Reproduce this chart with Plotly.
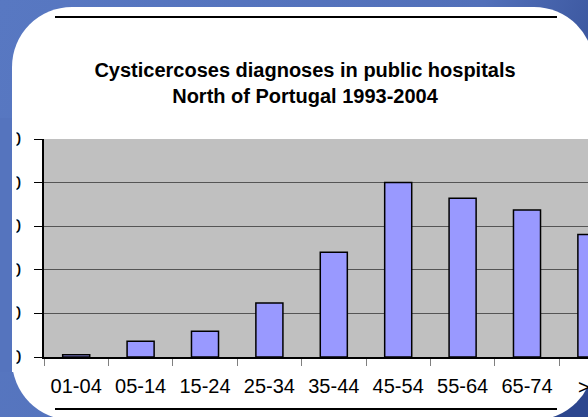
import base64
import plotly.graph_objects as go

# ---- data ----
categories = ["01-04", "05-14", "15-24", "25-34", "35-44", "45-54", "55-64", "65-74", ">75"]
cases = [0.5, 3.6, 5.9, 12.4, 24.0, 40.0, 36.4, 33.7, 28.1]
y_tick_values = [0, 10, 20, 30, 40, 50]
title_lines = ["Cysticercoses diagnoses in public hospitals", "North of Portugal 1993-2004"]

# ---- layout constants (pixels) ----
W, H = 588, 417
ML, MR, MT, MB = 44, 0, 139, 60
PW, PH = W - ML - MR, H - MT - MB
CAT_PITCH = 64.4  # pixel width of one category slot
X_SPAN = PW / CAT_PITCH  # number of category slots visible


def px(x):
    return (x - ML) / PW


def py(y):
    return (H - MB - y) / PH


FONT = "Liberation Sans, Arial, sans-serif"

svg = f'''<svg xmlns="http://www.w3.org/2000/svg" width="{W}" height="{H}" viewBox="0 0 {W} {H}" preserveAspectRatio="none">
<defs><linearGradient id="g" gradientUnits="userSpaceOnUse" x1="0" y1="0" x2="588" y2="250">
<stop offset="0" stop-color="#5878C2"/><stop offset="0.7" stop-color="#5270B9"/><stop offset="1" stop-color="#2C468E"/>
</linearGradient></defs>
<rect width="{W}" height="{H}" fill="url(#g)"/>
<rect x="12" y="7" width="582" height="413" rx="60" ry="60" fill="#FFFFFF"/>
<line x1="55" y1="17" x2="557" y2="17" stroke="#000" stroke-width="2"/>
<line x1="55" y1="409" x2="557" y2="409" stroke="#000" stroke-width="2"/>
</svg>'''
src = "data:image/svg+xml;base64," + base64.b64encode(svg.encode()).decode()

fig = go.Figure()
fig.add_trace(go.Bar(
    x=categories, y=cases, width=0.42,
    marker=dict(color="#9999FF", line=dict(color="#000000", width=1.5)),
    hoverinfo="x+y",
))

n = len(categories)
fig.update_layout(
    template="none",
    width=W, height=H,
    margin=dict(l=ML, r=MR, t=MT, b=MB, pad=0),
    paper_bgcolor="#5574BE",
    plot_bgcolor="rgba(0,0,0,0)",
    showlegend=False,
    font=dict(family=FONT, color="#000000"),
    title=dict(
        text="<b>" + "<br>".join(title_lines) + "</b>",
        font=dict(family=FONT, size=20, color="#000000"),
        x=305 / W, xanchor="center", xref="container",
        y=1 - 77 / H, yanchor="middle", yref="container",
    ),
    xaxis=dict(
        type="category", range=[-0.5, -0.5 + X_SPAN],
        tickson="boundaries", ticks="outside", ticklen=7, tickcolor="#808080", tickwidth=1,
        showline=True, linecolor="#000000", linewidth=1.5,
        showgrid=False, zeroline=False,
        tickfont=dict(family=FONT, size=20, color="#000000"),
        ticklabelstandoff=10,
        fixedrange=True,
    ),
    yaxis=dict(
        range=[0, 50], tickvals=y_tick_values,
        ticks="outside", ticklen=8, tickcolor="#000000", tickwidth=1,
        showline=True, linecolor="#000000", linewidth=1.5,
        showgrid=True, gridcolor="#555555", gridwidth=1, zeroline=False,
        tickfont=dict(family=FONT, size=20, color="#000000"),
        ticklabelstandoff=9,
        fixedrange=True,
    ),
    images=[dict(
        source=src, xref="paper", yref="paper",
        x=px(0), y=py(0), sizex=W / PW, sizey=H / PH,
        xanchor="left", yanchor="top", sizing="stretch", layer="below",
    )],
    shapes=[
        dict(type="rect", xref="paper", yref="paper", x0=0, x1=1, y0=0, y1=1,
             fillcolor="#C0C0C0", line=dict(width=0), layer="below"),
        dict(type="rect", xref="paper", yref="paper", x0=px(0), x1=px(12), y0=py(372), y1=py(118),
             fillcolor="#5574BE", line=dict(width=0), layer="above"),
        dict(type="rect", xref="paper", yref="paper", x0=px(12), x1=px(16.5), y0=py(372), y1=py(118),
             fillcolor="#FFFFFF", line=dict(width=0), layer="above"),
    ],
    annotations=[dict(
        # label of the last (partly hidden) category, placed at its slot centre
        text=categories[-1], xref="paper", yref="paper",
        x=(n - 1 + 0.5) / X_SPAN, xshift=4,
        y=py(387), yanchor="middle", xanchor="center",
        showarrow=False, font=dict(family=FONT, size=20, color="#000000"),
    )],
)

fig.write_html(
    "out.html",
    config={"displayModeBar": False},
    post_script="document.body.style.margin='0';document.body.style.overflow='hidden';",
)
